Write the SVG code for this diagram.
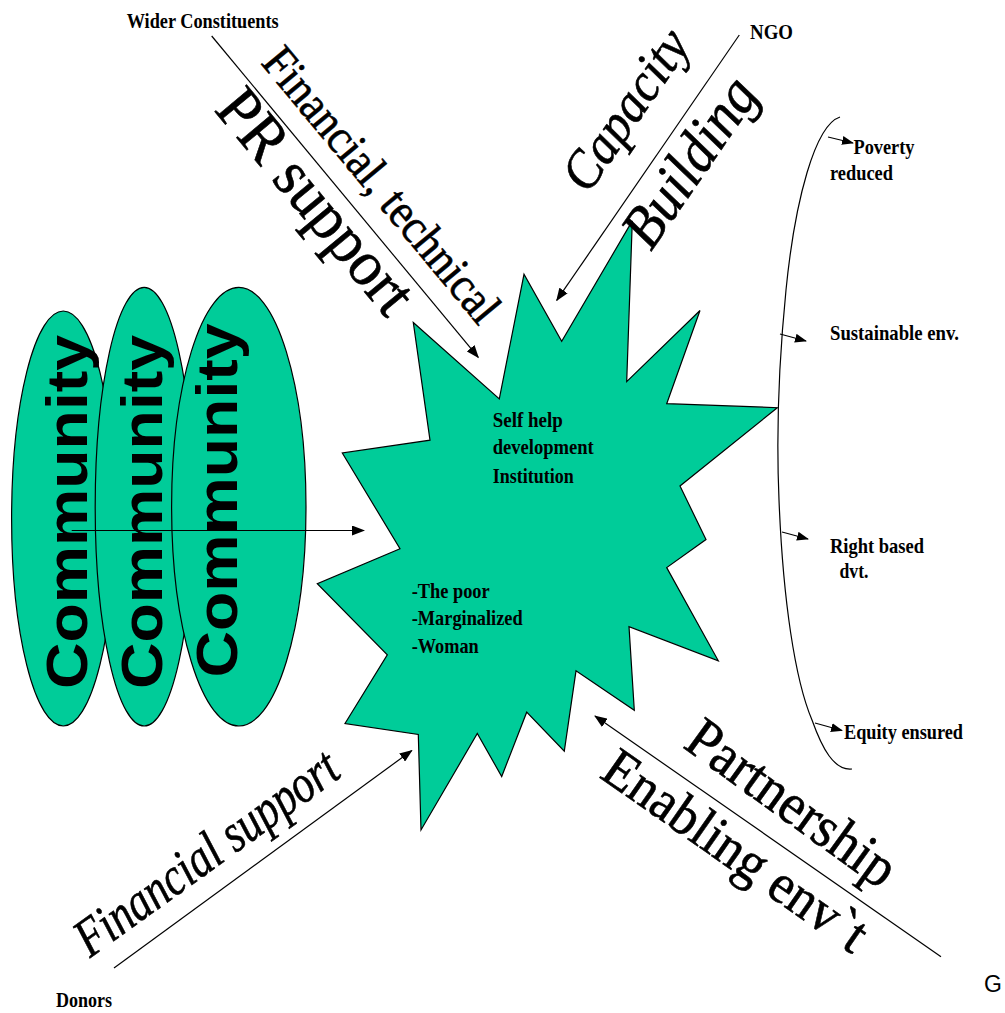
<svg xmlns="http://www.w3.org/2000/svg" width="1005" height="1013" viewBox="0 0 1005 1013">
<style>
.shape{fill:#00CC99;stroke:#000;stroke-width:1.2}
.lbl{font-family:"Liberation Serif","Times New Roman",serif;font-weight:bold;font-size:22px;fill:#000}
.big{font-family:"Liberation Serif","Times New Roman",serif;fill:#000;stroke:#000;stroke-width:0.6}
.it{font-style:italic}
.comm{font-family:"Liberation Sans",Arial,sans-serif;font-size:58px;font-weight:bold;fill:#000}
.conn{stroke:#000;stroke-width:1.2;fill:none}
</style>
<defs>
<marker id="ah" markerWidth="13" markerHeight="10" refX="12" refY="5" orient="auto" markerUnits="userSpaceOnUse"><path d="M0,0 L13,5 L0,10 z" fill="#000"/></marker>
<marker id="ahs" markerWidth="12" markerHeight="9" refX="11" refY="4.5" orient="auto" markerUnits="userSpaceOnUse"><path d="M0,0 L12,4.5 L0,9 z" fill="#000"/></marker>
</defs>
<rect width="1005" height="1013" fill="#fff"/>

<g id="community1">
<ellipse class="shape" cx="63.3" cy="518.5" rx="51.7" ry="207.5"/>
<text class="comm" transform="translate(87.3,689) rotate(-90)" textLength="354" lengthAdjust="spacingAndGlyphs">Community</text>
</g>
<g id="community2">
<ellipse class="shape" cx="144.2" cy="506.7" rx="49" ry="219.3"/>
<text class="comm" transform="translate(161.7,689) rotate(-90)" textLength="354" lengthAdjust="spacingAndGlyphs">Community</text>
</g>
<g id="community3">
<ellipse class="shape" cx="238.8" cy="506.7" rx="67.2" ry="219.3"/>
<text class="comm" transform="translate(237.3,677.5) rotate(-90)" textLength="354" lengthAdjust="spacingAndGlyphs">Community</text>
</g>

<g id="institution">
<polygon class="shape" points="413.3,322.5 499.3,398.9 524,274.3 561.7,341.4 632.3,220.9 626.7,381.6 700,310.5 666.7,403.7 777.3,407.7 680,486 706,539.5 666.7,567.6 718.3,660.8 629,626.6 634.3,710.2 576,670.8 564.3,751.2 526.7,712.2 501.7,776.5 477.3,733.5 421,830 418.3,734.4 345,723.5 387.3,654.8 317.3,583.7 400,548.7 342.3,453 430,440.2"/>
<text class="lbl" x="492.7" y="427" textLength="70" lengthAdjust="spacingAndGlyphs">Self help</text>
<text class="lbl" x="492.7" y="454" textLength="101" lengthAdjust="spacingAndGlyphs">development</text>
<text class="lbl" x="492.7" y="483" textLength="81" lengthAdjust="spacingAndGlyphs">Institution</text>
<text class="lbl" x="411.7" y="598" textLength="78" lengthAdjust="spacingAndGlyphs">-The poor</text>
<text class="lbl" x="411.7" y="625" textLength="111" lengthAdjust="spacingAndGlyphs">-Marginalized</text>
<text class="lbl" x="411.7" y="653" textLength="67" lengthAdjust="spacingAndGlyphs">-Woman</text>
</g>

<g id="outcomes">
<path class="conn" d="M840,117 C815,125 795,200 786,290 C779,360 776,430 779,500 C783,600 795,680 812,720 C822,748 834,771 852,769"/>
<text class="lbl" x="853.5" y="154" textLength="61" lengthAdjust="spacingAndGlyphs">Poverty</text>
<text class="lbl" x="830" y="180" textLength="63" lengthAdjust="spacingAndGlyphs">reduced</text>
<text class="lbl" x="830" y="340" textLength="129" lengthAdjust="spacingAndGlyphs">Sustainable env.</text>
<text class="lbl" x="830" y="553" textLength="94" lengthAdjust="spacingAndGlyphs">Right based</text>
<text class="lbl" x="839.5" y="578" textLength="29" lengthAdjust="spacingAndGlyphs">dvt.</text>
<text class="lbl" x="844" y="739" textLength="119" lengthAdjust="spacingAndGlyphs">Equity ensured</text>
</g>

<g id="wider-constituents">
<text class="lbl" x="126.7" y="28.3" textLength="152" lengthAdjust="spacingAndGlyphs">Wider Constituents</text>
</g>
<g id="ngo">
<text class="lbl" x="750" y="39" textLength="43" lengthAdjust="spacingAndGlyphs">NGO</text>
</g>
<g id="donors">
<text class="lbl" x="56" y="1006.5" textLength="56" lengthAdjust="spacingAndGlyphs">Donors</text>
</g>
<g id="gov">
<text x="984" y="991.5" style="font-family:'Liberation Sans',Arial,sans-serif;font-size:23px">G</text>
</g>

<g id="connectors">
<line class="conn" x1="211.7" y1="36" x2="478.3" y2="357.4" marker-end="url(#ah)"/>
<line class="conn" x1="739.3" y1="35" x2="556.7" y2="300.4" marker-end="url(#ah)"/>
<line class="conn" x1="71.7" y1="530.5" x2="364" y2="530.5" marker-end="url(#ah)"/>
<line class="conn" x1="114" y1="968" x2="411.8" y2="750.5" marker-end="url(#ah)"/>
<line class="conn" x1="941" y1="956.7" x2="595" y2="716" marker-end="url(#ah)"/>
<line class="conn" x1="828" y1="137" x2="853" y2="143" marker-end="url(#ahs)"/>
<line class="conn" x1="780" y1="334" x2="806" y2="341" marker-end="url(#ahs)"/>
<line class="conn" x1="782" y1="532" x2="808" y2="539" marker-end="url(#ahs)"/>
<line class="conn" x1="815" y1="723" x2="842" y2="730.5" marker-end="url(#ahs)"/>
</g>

<g id="connector-labels">
<text class="big" font-size="48" transform="translate(260,63) rotate(50.3)" textLength="343" lengthAdjust="spacingAndGlyphs">Financial, technical</text>
<text class="big" font-size="64" transform="translate(213.3,110) rotate(50.3)" textLength="272" lengthAdjust="spacingAndGlyphs">PR support</text>
<text class="big it" font-size="54" transform="translate(588,195) rotate(-55.4)" textLength="183" lengthAdjust="spacingAndGlyphs">Capacity</text>
<text class="big it" font-size="60" transform="translate(651,252) rotate(-55.4)" textLength="192" lengthAdjust="spacingAndGlyphs">Building</text>
<text class="big it" font-size="54" transform="translate(90,958.3) rotate(-35.8)" textLength="312" lengthAdjust="spacingAndGlyphs">Financial support</text>
<text class="big" font-size="58" transform="translate(681.7,746.7) rotate(35.8)" textLength="245" lengthAdjust="spacingAndGlyphs">Partnership</text>
<text class="big" font-size="56" transform="translate(598.3,776.7) rotate(35)" textLength="310" lengthAdjust="spacingAndGlyphs">Enabling env`t</text>
</g>
</svg>
